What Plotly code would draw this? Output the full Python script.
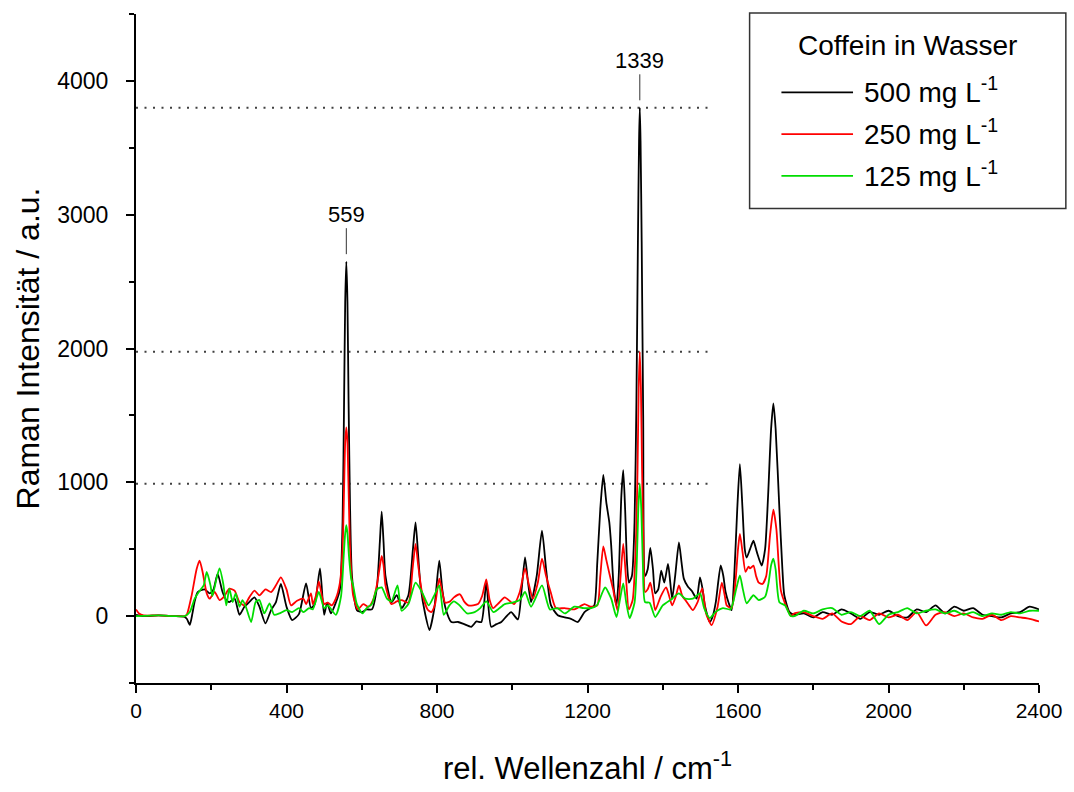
import plotly.graph_objects as go

# ---------------- data ----------------
# 500 mg/L
black_x = [0, 20, 60, 100, 128, 135, 143, 150, 156, 164, 182, 196, 206, 217, 230, 240, 248, 262, 275, 288,
           301, 315, 328, 344, 359, 372, 385, 400, 415, 433, 452, 465, 475, 489, 500, 508, 518, 531, 542, 549,
           553, 556, 559, 562, 565, 569, 574, 587, 600, 613, 627, 640, 648, 653, 658, 663, 679, 693, 706, 724,
           736, 743, 750, 756, 769, 780, 793, 806, 814, 822, 838, 856, 872, 891, 905, 918, 931, 944, 958, 971,
           985, 997, 1015, 1025, 1034, 1042, 1050, 1065, 1079, 1090, 1103, 1121, 1140, 1156, 1174, 1192, 1208,
           1218, 1226, 1234, 1242, 1250, 1258, 1263, 1270, 1277, 1283, 1290, 1295, 1300, 1305, 1310, 1318, 1325,
           1330, 1334, 1337, 1339, 1341, 1344, 1348, 1353, 1360, 1367, 1374, 1380, 1388, 1396, 1404, 1414, 1420,
           1425, 1433, 1443, 1450, 1456, 1467, 1477, 1490, 1499, 1506, 1512, 1525, 1533, 1541, 1554, 1561, 1567,
           1575, 1583, 1590, 1598, 1605, 1612, 1618, 1623, 1632, 1641, 1650, 1663, 1672, 1680, 1688, 1694, 1700,
           1710, 1718, 1723, 1737, 1750, 1775, 1800, 1825, 1850, 1875, 1900, 1925, 1950, 1975, 2000, 2025, 2050,
           2075, 2100, 2125, 2150, 2175, 2200, 2225, 2250, 2275, 2300, 2325, 2350, 2375, 2400]
black_y = [10, 0, 5, 0, -5, -20, -65, 20, 110, 180, 200, 170, 200, 315, 180, 120, 105, 130, 10, 70,
           105, 140, 70, -55, 45, 105, 240, 70, -30, 15, 245, 60, 90, 356, 10, 100, 20, 100, 200, 700,
           1600, 2350, 2650, 2350, 1600, 800, 300, 45, 30, 50, 50, 207, 550, 780, 550, 300, 104, 156, 60, 156,
           500, 700, 450, 230, 10, -104, 60, 415, 200, 67, -44, -44, -60, -80, -40, -44, 252, -80, -60, -44,
           0, 30, -25, 200, 438, 250, 104, 300, 638, 350, 80, 7, -10, -20, -44, 30, 60,
           80, 400, 800, 1055, 850, 700, 527, 200, 80, 300, 900, 1090, 800, 400, 250, 300, 700,
           1600, 2800, 3550, 3800, 3550, 2800, 1500, 300, 350, 510, 350, 170, 200, 340, 250, 390, 250,
           130, 300, 550, 400, 280, 220, 190, 130, 290, 200, 80, -44, 0, 104, 378, 300, 180,
           100, 44, 300, 800, 1135, 800, 500, 437, 500, 563, 480, 378, 500, 900, 1400, 1590, 1400,
           800, 350, 156, 30, 10, 20, -10, 30, 10, 50, 20, -20, 30, 10, 40, 0, -10,
           50, 30, 80, 20, 70, 40, 60, 10, 0, -10, 20, 30, 70, 50]

# 250 mg/L
red_x = [0, 8, 20, 60, 100, 130, 135, 148, 161, 169, 177, 188, 196, 209, 222, 235, 248, 262, 275, 288,
         301, 315, 328, 344, 359, 372, 385, 400, 412, 428, 445, 452, 465, 470, 478, 486, 494, 500, 510, 520,
         531, 542, 549, 553, 556, 559, 562, 565, 569, 577, 590, 604, 618, 630, 640, 647, 653, 658, 663, 679,
         693, 706, 724, 735, 743, 750, 760, 775, 785, 795, 806, 814, 822, 835, 845, 861, 872, 883, 909, 920,
         931, 940, 949, 965, 980, 1005, 1020, 1034, 1043, 1055, 1068, 1079, 1090, 1103, 1116, 1139, 1165, 1192,
         1208, 1226, 1234, 1242, 1250, 1258, 1268, 1280, 1288, 1295, 1302, 1310, 1320, 1328, 1333, 1336, 1339,
         1342, 1345, 1349, 1353, 1360, 1367, 1374, 1380, 1395, 1409, 1417, 1425, 1435, 1443, 1452, 1460, 1470,
         1480, 1492, 1505, 1515, 1530, 1545, 1557, 1565, 1570, 1583, 1593, 1600, 1605, 1612, 1620, 1628, 1632,
         1641, 1648, 1655, 1665, 1675, 1685, 1694, 1702, 1714, 1727, 1741, 1750, 1775, 1800, 1825, 1850, 1875,
         1900, 1925, 1950, 1975, 2000, 2025, 2050, 2075, 2100, 2125, 2150, 2175, 2200, 2225, 2250, 2275, 2300,
         2325, 2350, 2375, 2400]
red_y = [50, 20, 5, 5, 0, 0, 10, 155, 350, 415, 330, 170, 130, 180, 120, 150, 205, 190, 105, 80,
         140, 190, 155, 200, 180, 230, 290, 200, 80, 115, 130, 90, 170, 90, 150, 260, 150, 90, 100, 80,
         130, 250, 500, 950, 1300, 1410, 1300, 950, 500, 156, 50, 90, 70, 120, 230, 350, 450, 380, 230, 90,
         110, 120, 100, 350, 540, 380, 180, 50, 30, 90, 280, 180, 100, 110, 140, 163, 110, 80, 90, 150,
         275, 120, 60, 100, 140, 90, 180, 356, 250, 130, 250, 430, 300, 170, 60, 60, 50, 90,
         70, 80, 300, 520, 420, 320, 200, 40, 300, 540, 300, 50, 120, 500, 1100, 1700, 1975,
         1700, 1100, 500, 180, 200, 250, 150, 44, 150, 215, 150, 80, 150, 230, 150, 120, 80,
         44, 100, 207, 20, -67, 60, 250, 150, 80, 60, 250, 500, 615, 480, 330, 370, 356,
         378, 300, 250, 240, 300, 600, 795, 650, 190, 80, 0, 20, 30, 0, -20, 20, -40,
         -60, 0, -30, 20, -10, 10, -30, 30, -70, 10, 30, 0, 20, -10, -20, 10, -30,
         0, -10, -20, -40]

# 125 mg/L
green_x = [0, 60, 100, 130, 143, 156, 167, 180, 188, 198, 203, 214, 222, 232, 240, 248, 257, 265, 275, 283,
           292, 306, 318, 328, 341, 355, 367, 381, 400, 415, 433, 445, 460, 470, 486, 500, 510, 531, 545, 552,
           556, 559, 562, 566, 572, 577, 587, 602, 613, 627, 640, 653, 667, 679, 695, 706, 724, 743, 760, 778,
           792, 806, 818, 833, 845, 860, 880, 900, 915, 931, 950, 980, 1000, 1020, 1034, 1050, 1079, 1100, 1120,
           1140, 1165, 1190, 1210, 1225, 1240, 1247, 1263, 1277, 1286, 1295, 1303, 1312, 1325, 1331, 1335, 1339,
           1343, 1347, 1353, 1365, 1380, 1400, 1425, 1443, 1460, 1480, 1499, 1510, 1525, 1540, 1560, 1580, 1595,
           1605, 1613, 1623, 1641, 1655, 1672, 1681, 1688, 1694, 1700, 1710, 1725, 1740, 1750, 1775, 1800, 1825,
           1850, 1875, 1900, 1925, 1950, 1975, 2000, 2025, 2050, 2075, 2100, 2125, 2150, 2175, 2200, 2225, 2250,
           2275, 2300, 2325, 2350, 2375, 2400]
green_y = [0, 5, 0, 0, 30, 130, 180, 230, 330, 230, 150, 280, 356, 240, 80, 205, 105, 170, 70, 120,
           70, -44, 105, 120, 20, 95, 10, 20, 45, 30, 60, 30, 60, 50, 180, 60, 80, 10, 150, 450,
           620, 680, 620, 450, 280, 230, 90, 20, 60, 90, 200, 215, 130, 110, 230, 40, 90, 250, 180, 80,
           150, 230, 10, 80, 110, 80, 20, 30, 60, 110, 30, 90, 100, 120, 180, 70, 230, 50, 60,
           20, 70, 60, 60, 80, 180, 215, 130, -7, 120, 245, 100, -15, 100, 400, 800, 990,
           800, 400, 104, 100, -7, 80, 130, 170, 130, 130, 170, 60, -15, 30, 60, 50, 200,
           304, 200, 96, 156, 120, 145, 245, 380, 430, 350, 104, 80, 0, 0, 40, 20, 50,
           60, 10, 30, 0, 40, -60, 10, 30, 60, 20, 40, 50, 20, 40, 10, 30, 0,
           20, 10, 30, 20, 40, 40]

series_names = ["500 mg L<sup>-1</sup>", "250 mg L<sup>-1</sup>", "125 mg L<sup>-1</sup>"]
series_colors = ["#000000", "#ff0000", "#00dd00"]
legend_title = "Coffein in Wasser"
marked_peaks = [559, 1339]           # annotated band positions (cm^-1)
hline_x = [0, 1525]                  # extent of the dotted peak-height guides
x_ticks = [0, 400, 800, 1200, 1600, 2000, 2400]
y_ticks = [0, 1000, 2000, 3000, 4000]

FONT = "Liberation Sans, Arial, sans-serif"

fig = go.Figure()

# dotted guides at the 1339 peak height of each concentration
for ys in (black_y, red_y, green_y):
    pk = max(ys)
    fig.add_trace(go.Scatter(x=hline_x, y=[pk, pk], mode="lines", showlegend=False, hoverinfo="skip",
                             line=dict(color="#404040", width=2, dash="2px,6.5px")))

for xs, ys, name, col in zip((black_x, red_x, green_x), (black_y, red_y, green_y), series_names, series_colors):
    fig.add_trace(go.Scatter(x=xs, y=ys, mode="lines", name=name, showlegend=False,
                             line=dict(color=col, width=1.8, shape="spline", smoothing=0.6)))

# peak labels
for p in marked_peaks:
    yv = black_y[black_x.index(p)]
    fig.add_annotation(x=p, y=yv + 55, text=str(p), showarrow=True, arrowhead=0, arrowwidth=1,
                       arrowcolor="#333333", ax=0, ay=-40, font=dict(size=22, color="black", family=FONT))

# legend box (paper coordinates, styled like the reference)
PW, PH = 908.0, 674.0
def px_x(p):
    return (p - 136) / PW
def px_y(p):
    return (688 - p) / PH

fig.add_shape(type="rect", xref="paper", yref="paper", x0=px_x(753), x1=px_x(1071), y0=px_y(210), y1=px_y(13),
              line=dict(color="#333333", width=1.5), fillcolor="white", layer="above")
fig.add_annotation(xref="paper", yref="paper", x=px_x(912), y=px_y(46), text=legend_title, showarrow=False,
                   xanchor="center", yanchor="middle", font=dict(size=28, family=FONT, color="black"))
for i, (name, col) in enumerate(zip(series_names, series_colors)):
    yy = 93 + 42 * i
    fig.add_shape(type="line", xref="paper", yref="paper", x0=px_x(785), x1=px_x(857), y0=px_y(yy), y1=px_y(yy),
                  line=dict(color=col, width=1.8), layer="above")
    fig.add_annotation(xref="paper", yref="paper", x=px_x(866), y=px_y(yy - 2), text=name, showarrow=False,
                       xanchor="left", yanchor="middle", font=dict(size=28, family=FONT, color="black"))

fig.update_layout(
    width=1074, height=792,
    margin=dict(l=136, r=30, t=14, b=104),
    paper_bgcolor="white", plot_bgcolor="white",
    font=dict(family=FONT, color="black"),
    showlegend=False,
    xaxis=dict(
        range=[0, 2400], tickvals=x_ticks, ticks="outside", ticklen=8, tickwidth=2, tickcolor="black",
        showline=True, linewidth=2, linecolor="black", showgrid=False, zeroline=False,
        tickfont=dict(size=21, family=FONT),
        minor=dict(dtick=200, tick0=0, ticks="outside", ticklen=5, tickwidth=1.5, tickcolor="black", showgrid=False),
        title=dict(text="rel. Wellenzahl / cm<sup>-1</sup>", font=dict(size=31, family=FONT), standoff=36),
    ),
    yaxis=dict(
        range=[-500, 4500], tickvals=y_ticks, ticks="outside", ticklen=8, tickwidth=2, tickcolor="black",
        showline=True, linewidth=2, linecolor="black", showgrid=False, zeroline=False,
        tickfont=dict(size=23, family=FONT), ticklabelstandoff=13,
        minor=dict(dtick=500, tick0=0, ticks="outside", ticklen=5, tickwidth=1.5, tickcolor="black", showgrid=False),
        title=dict(text="Raman Intensität / a.u.", font=dict(size=32, family=FONT), standoff=8),
    ),
)

fig.write_html("out.html")
